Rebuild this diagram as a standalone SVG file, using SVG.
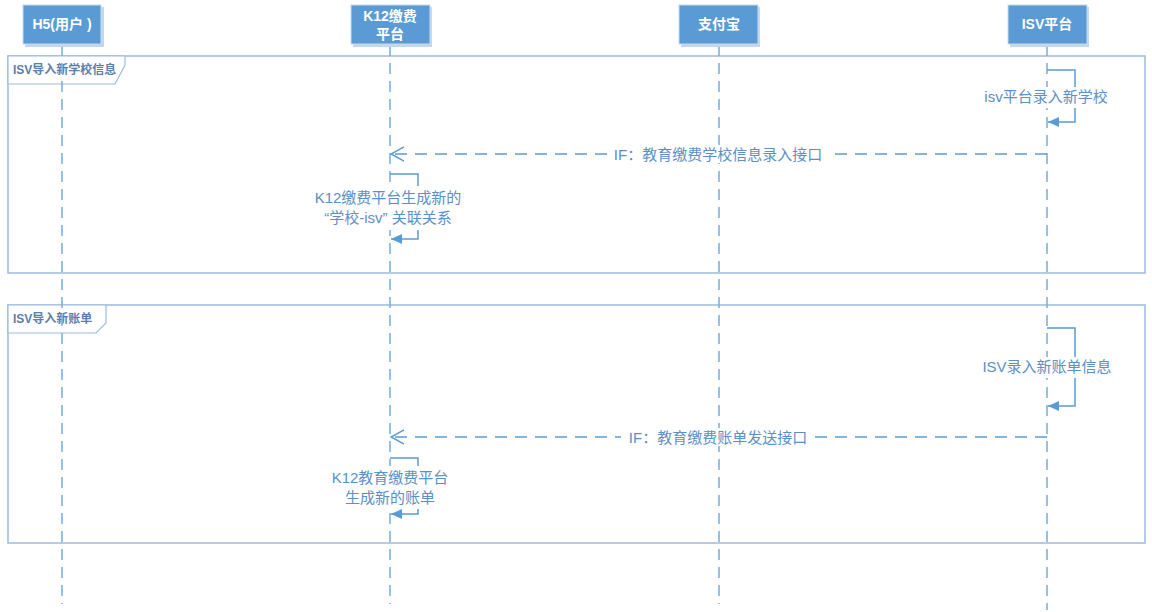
<svg xmlns="http://www.w3.org/2000/svg" width="1152" height="612" viewBox="0 0 1152 612">
<style>
.box{fill:#5b9bd5;stroke:#c9d9ea;stroke-width:1}
.shadow{fill:#c3d6ec}
.hdr{font-family:"Liberation Sans","Noto Sans CJK SC",sans-serif;font-size:14px;font-weight:bold;fill:#ffffff;text-anchor:middle}
.life{stroke:#7fb1e0;stroke-width:1.6;stroke-dasharray:11 7;fill:none}
.frame{fill:none;stroke:#9dbbdb;stroke-width:1.5}
.tab{fill:#ffffff;stroke:#9dbbdb;stroke-width:1.2}
.tabtxt{font-family:"Liberation Sans","Noto Sans CJK SC",sans-serif;font-size:12px;font-weight:bold;fill:#5a7eaa}
.msg{stroke:#5b9bd5;stroke-width:1.5;fill:none}
.dash{stroke:#5b9bd5;stroke-width:1.5;fill:none;stroke-dasharray:12 8}
.lbl{font-family:"Liberation Sans","Noto Sans CJK SC",sans-serif;font-size:15px;fill:#5b8fc7;text-anchor:middle}
.bg{fill:#ffffff}
</style>
<defs>
<marker id="fill" markerWidth="12" markerHeight="10" refX="11" refY="5" orient="auto" markerUnits="userSpaceOnUse">
<path d="M0,0 L11,5 L0,10 z" fill="#5b9bd5"/>
</marker>
<marker id="open" markerWidth="14" markerHeight="16" refX="13" refY="8" orient="auto" markerUnits="userSpaceOnUse">
<path d="M0,1 L13,8 L0,15" fill="none" stroke="#5b9bd5" stroke-width="1.5"/>
</marker>
</defs>
<rect width="1152" height="612" fill="#ffffff"/>

<g id="frames">
<g id="frame1">
<rect class="frame" x="8" y="56" width="1137" height="217"/>
<path class="tab" d="M8,56 L125,56 L125,65 L115,84 L8,84 Z"/>
<text class="tabtxt" x="13" y="74">ISV导入新学校信息</text>
</g>
<g id="frame2">
<rect class="frame" x="8" y="305" width="1137" height="238"/>
<path class="tab" d="M8,305 L106,305 L106,323 L96,333 L8,333 Z"/>
<text class="tabtxt" x="13" y="323">ISV导入新账单</text>
</g>
</g>

<g id="lifelines">
<line class="life" x1="62" y1="45" x2="62" y2="604"/>
<line class="life" x1="390" y1="45" x2="390" y2="604"/>
<line class="life" x1="719" y1="45" x2="719" y2="604"/>
<line class="life" x1="1047" y1="45" x2="1047" y2="610"/>
</g>

<g id="h5">
<rect class="shadow" x="25" y="7" width="79" height="40"/>
<rect class="box" x="23" y="5" width="78" height="39"/>
<text class="hdr" x="62" y="29">H5(用户 )</text>
</g>
<g id="k12">
<rect class="shadow" x="353" y="7" width="79" height="40"/>
<rect class="box" x="351" y="5" width="79" height="39"/>
<text class="hdr" x="390" y="21">K12缴费</text>
<text class="hdr" x="390" y="39">平台</text>
</g>
<g id="alipay">
<rect class="shadow" x="681" y="7" width="79" height="40"/>
<rect class="box" x="679" y="5" width="79" height="39"/>
<text class="hdr" x="719" y="29">支付宝</text>
</g>
<g id="isv">
<rect class="shadow" x="1010" y="7" width="79" height="40"/>
<rect class="box" x="1008" y="5" width="79" height="39"/>
<text class="hdr" x="1047" y="29">ISV平台</text>
</g>

<g id="connectors">
<polyline class="msg" points="1047,70 1075,70 1075,122 1048,122" marker-end="url(#fill)"/>
<rect class="bg" x="982" y="87" width="130" height="21"/>
<text class="lbl" x="1046" y="102">isv平台录入新学校</text>

<line class="dash" x1="1047" y1="154" x2="391" y2="154" marker-end="url(#open)"/>
<rect class="bg" x="609" y="145" width="218" height="18"/>
<text class="lbl" x="718" y="160">IF：教育缴费学校信息录入接口</text>

<polyline class="msg" points="390,174 418,174 418,239 391,239" marker-end="url(#fill)"/>
<rect class="bg" x="310" y="186" width="156" height="44"/>
<text class="lbl" x="388" y="203">K12缴费平台生成新的</text>
<text class="lbl" x="388" y="223">“学校-isv” 关联关系</text>

<polyline class="msg" points="1047,328 1075,328 1075,406 1048,406" marker-end="url(#fill)"/>
<rect class="bg" x="980" y="357" width="134" height="21"/>
<text class="lbl" x="1047" y="372">ISV录入新账单信息</text>

<line class="dash" x1="1047" y1="437" x2="391" y2="437" marker-end="url(#open)"/>
<rect class="bg" x="621" y="428" width="194" height="18"/>
<text class="lbl" x="718" y="443">IF：教育缴费账单发送接口</text>

<polyline class="msg" points="390,458 418,458 418,514 391,514" marker-end="url(#fill)"/>
<rect class="bg" x="328" y="466" width="124" height="43"/>
<text class="lbl" x="390" y="483">K12教育缴费平台</text>
<text class="lbl" x="390" y="503">生成新的账单</text>
</g>
</svg>
